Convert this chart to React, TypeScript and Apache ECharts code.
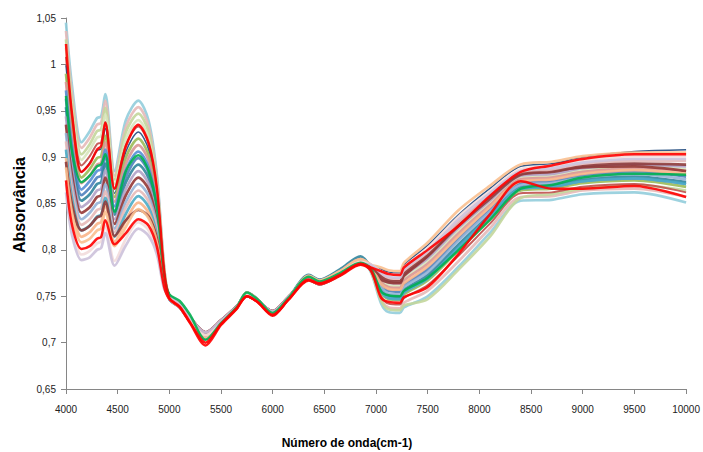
import React, { useEffect, useRef } from "react";
import * as echarts from "echarts";

// Wavenumbers (cm-1) at which every spectrum is sampled
const wavenumbers = [
  4000, 4060, 4150, 4230, 4300, 4340, 4380, 4470, 4580, 4700, 4800, 4880, 4950,
  5000, 5100, 5200, 5350, 5500, 5650, 5750, 5850, 6000, 6150, 6350, 6450, 6650, 6850, 6950,
  7050, 7120, 7230, 7270, 7500, 7800, 8100, 8400, 8700, 9000, 9500, 10000,
];

// Absorbance spectra, one array per sample
const spLightBlue = [
  1.045, 0.975, 0.916, 0.928, 0.942, 0.944, 0.968, 0.885, 0.940, 0.961, 0.939, 0.880, 0.781,
  0.747, 0.738, 0.723, 0.705, 0.721, 0.737, 0.754, 0.747, 0.730, 0.747, 0.772, 0.767, 0.777, 0.790, 0.776,
  0.742, 0.733, 0.732, 0.738, 0.750, 0.782, 0.818, 0.853, 0.854, 0.860, 0.862, 0.851,
];
const spRose = [
  1.036, 0.967, 0.910, 0.921, 0.935, 0.937, 0.961, 0.880, 0.933, 0.954, 0.933, 0.876, 0.780,
  0.749, 0.740, 0.725, 0.708, 0.722, 0.738, 0.752, 0.746, 0.732, 0.748, 0.770, 0.765, 0.775, 0.787, 0.777,
  0.746, 0.738, 0.737, 0.743, 0.756, 0.788, 0.823, 0.857, 0.858, 0.864, 0.866, 0.857,
];
const spOliveLight = [
  1.027, 0.959, 0.903, 0.914, 0.928, 0.930, 0.953, 0.876, 0.927, 0.947, 0.927, 0.872, 0.779,
  0.747, 0.738, 0.723, 0.705, 0.721, 0.737, 0.754, 0.747, 0.730, 0.747, 0.772, 0.767, 0.777, 0.790, 0.777,
  0.745, 0.736, 0.735, 0.740, 0.747, 0.779, 0.814, 0.856, 0.860, 0.866, 0.870, 0.864,
];
const spOliveMist = [
  1.018, 0.951, 0.897, 0.908, 0.921, 0.923, 0.946, 0.871, 0.920, 0.940, 0.920, 0.867, 0.778,
  0.751, 0.741, 0.727, 0.711, 0.724, 0.739, 0.750, 0.745, 0.734, 0.749, 0.768, 0.763, 0.773, 0.785, 0.782,
  0.767, 0.762, 0.761, 0.769, 0.788, 0.821, 0.851, 0.878, 0.880, 0.886, 0.890, 0.887,
];
const spBrick = [
  1.008, 0.943, 0.891, 0.901, 0.914, 0.916, 0.938, 0.866, 0.913, 0.933, 0.914, 0.863, 0.776,
  0.751, 0.741, 0.727, 0.711, 0.724, 0.739, 0.750, 0.745, 0.734, 0.749, 0.768, 0.763, 0.773, 0.785, 0.777,
  0.750, 0.742, 0.741, 0.748, 0.762, 0.794, 0.828, 0.861, 0.862, 0.868, 0.871, 0.862,
];
const spNavy = [
  0.999, 0.935, 0.884, 0.894, 0.907, 0.909, 0.931, 0.861, 0.906, 0.927, 0.908, 0.859, 0.775,
  0.747, 0.738, 0.723, 0.705, 0.721, 0.737, 0.754, 0.747, 0.730, 0.747, 0.772, 0.767, 0.777, 0.790, 0.784,
  0.779, 0.776, 0.775, 0.784, 0.805, 0.838, 0.866, 0.890, 0.893, 0.900, 0.906, 0.908,
];
const spOlive = [
  0.990, 0.927, 0.878, 0.887, 0.899, 0.901, 0.923, 0.857, 0.900, 0.920, 0.902, 0.855, 0.774,
  0.749, 0.740, 0.725, 0.708, 0.722, 0.738, 0.752, 0.746, 0.732, 0.748, 0.770, 0.765, 0.775, 0.787, 0.780,
  0.754, 0.747, 0.746, 0.752, 0.767, 0.800, 0.833, 0.864, 0.866, 0.872, 0.875, 0.868,
];
const spTan = [
  0.981, 0.919, 0.872, 0.880, 0.892, 0.894, 0.916, 0.852, 0.893, 0.913, 0.896, 0.850, 0.773,
  0.751, 0.741, 0.727, 0.711, 0.724, 0.739, 0.750, 0.745, 0.734, 0.749, 0.768, 0.763, 0.773, 0.785, 0.782,
  0.765, 0.760, 0.759, 0.767, 0.785, 0.818, 0.848, 0.876, 0.878, 0.884, 0.888, 0.885,
];
const spCornflower = [
  0.972, 0.911, 0.865, 0.874, 0.885, 0.887, 0.908, 0.847, 0.886, 0.906, 0.889, 0.846, 0.772,
  0.747, 0.738, 0.723, 0.705, 0.721, 0.737, 0.754, 0.747, 0.730, 0.747, 0.772, 0.767, 0.777, 0.790, 0.780,
  0.756, 0.749, 0.748, 0.755, 0.770, 0.803, 0.836, 0.866, 0.868, 0.874, 0.877, 0.871,
];
const spSteel = [
  0.963, 0.903, 0.859, 0.867, 0.878, 0.880, 0.901, 0.842, 0.879, 0.899, 0.883, 0.842, 0.771,
  0.747, 0.738, 0.723, 0.705, 0.721, 0.737, 0.754, 0.747, 0.730, 0.747, 0.772, 0.767, 0.777, 0.790, 0.782,
  0.762, 0.756, 0.755, 0.762, 0.779, 0.812, 0.843, 0.872, 0.874, 0.880, 0.884, 0.879,
];
const spTeal = [
  0.954, 0.895, 0.853, 0.860, 0.871, 0.873, 0.893, 0.838, 0.873, 0.892, 0.877, 0.838, 0.770,
  0.748, 0.739, 0.723, 0.704, 0.721, 0.737, 0.753, 0.747, 0.730, 0.748, 0.773, 0.768, 0.779, 0.793, 0.781,
  0.758, 0.751, 0.750, 0.757, 0.773, 0.806, 0.838, 0.868, 0.870, 0.876, 0.879, 0.873,
];
const spLavender = [
  0.944, 0.887, 0.846, 0.853, 0.864, 0.866, 0.886, 0.833, 0.866, 0.885, 0.871, 0.833, 0.768,
  0.749, 0.740, 0.725, 0.708, 0.722, 0.738, 0.752, 0.746, 0.732, 0.748, 0.770, 0.765, 0.775, 0.787, 0.782,
  0.769, 0.765, 0.764, 0.772, 0.791, 0.824, 0.853, 0.880, 0.882, 0.888, 0.892, 0.890,
];
const spBrown = [
  0.935, 0.879, 0.840, 0.846, 0.857, 0.859, 0.878, 0.828, 0.859, 0.878, 0.865, 0.829, 0.767,
  0.751, 0.741, 0.727, 0.711, 0.724, 0.739, 0.750, 0.745, 0.734, 0.749, 0.768, 0.763, 0.773, 0.785, 0.782,
  0.768, 0.765, 0.764, 0.772, 0.793, 0.828, 0.858, 0.882, 0.885, 0.889, 0.890, 0.885,
];
const spSky = [
  0.926, 0.871, 0.833, 0.840, 0.850, 0.852, 0.871, 0.823, 0.852, 0.871, 0.858, 0.825, 0.766,
  0.749, 0.740, 0.725, 0.708, 0.722, 0.738, 0.752, 0.746, 0.732, 0.748, 0.770, 0.765, 0.775, 0.787, 0.780,
  0.760, 0.753, 0.752, 0.760, 0.776, 0.810, 0.841, 0.870, 0.872, 0.878, 0.882, 0.876,
];
const spPink = [
  0.917, 0.863, 0.827, 0.833, 0.843, 0.845, 0.863, 0.819, 0.846, 0.864, 0.852, 0.821, 0.765,
  0.747, 0.738, 0.723, 0.705, 0.721, 0.737, 0.754, 0.747, 0.730, 0.747, 0.772, 0.767, 0.777, 0.790, 0.784,
  0.773, 0.769, 0.768, 0.776, 0.796, 0.830, 0.858, 0.883, 0.886, 0.892, 0.896, 0.896,
];
const spAqua = [
  0.908, 0.855, 0.821, 0.826, 0.836, 0.838, 0.856, 0.814, 0.839, 0.858, 0.846, 0.816, 0.764,
  0.749, 0.740, 0.725, 0.708, 0.722, 0.738, 0.752, 0.746, 0.732, 0.748, 0.770, 0.765, 0.775, 0.787, 0.780,
  0.755, 0.748, 0.747, 0.754, 0.769, 0.803, 0.836, 0.866, 0.868, 0.874, 0.877, 0.871,
];
const spApricot = [
  0.899, 0.847, 0.814, 0.819, 0.828, 0.830, 0.848, 0.809, 0.832, 0.851, 0.840, 0.812, 0.763,
  0.749, 0.740, 0.725, 0.708, 0.722, 0.738, 0.752, 0.746, 0.732, 0.748, 0.770, 0.765, 0.775, 0.787, 0.782,
  0.763, 0.758, 0.757, 0.764, 0.782, 0.815, 0.846, 0.874, 0.876, 0.882, 0.886, 0.882,
];
const spMaroon = [
  0.895, 0.848, 0.821, 0.826, 0.835, 0.837, 0.852, 0.815, 0.832, 0.843, 0.836, 0.812, 0.763,
  0.751, 0.741, 0.727, 0.711, 0.724, 0.739, 0.750, 0.745, 0.734, 0.749, 0.768, 0.763, 0.773, 0.785, 0.782,
  0.771, 0.767, 0.766, 0.774, 0.794, 0.826, 0.855, 0.881, 0.884, 0.890, 0.893, 0.892,
];
const spPeach = [
  0.889, 0.839, 0.808, 0.812, 0.821, 0.823, 0.841, 0.804, 0.825, 0.844, 0.834, 0.808, 0.761,
  0.747, 0.738, 0.723, 0.705, 0.721, 0.737, 0.754, 0.747, 0.730, 0.747, 0.772, 0.767, 0.777, 0.790, 0.784,
  0.781, 0.778, 0.777, 0.786, 0.808, 0.843, 0.869, 0.892, 0.895, 0.901, 0.905, 0.905,
];
const spBlush = [
  0.871, 0.823, 0.795, 0.799, 0.807, 0.809, 0.826, 0.788, 0.812, 0.830, 0.821, 0.799, 0.759,
  0.749, 0.740, 0.725, 0.708, 0.722, 0.738, 0.752, 0.746, 0.732, 0.748, 0.770, 0.765, 0.775, 0.787, 0.784,
  0.777, 0.774, 0.773, 0.781, 0.802, 0.836, 0.863, 0.887, 0.890, 0.896, 0.901, 0.901,
];
const spLilac = [
  0.862, 0.815, 0.789, 0.792, 0.800, 0.802, 0.818, 0.783, 0.805, 0.823, 0.815, 0.795, 0.758,
  0.751, 0.741, 0.727, 0.711, 0.724, 0.739, 0.750, 0.745, 0.734, 0.749, 0.768, 0.763, 0.773, 0.785, 0.784,
  0.775, 0.771, 0.770, 0.779, 0.799, 0.833, 0.861, 0.885, 0.888, 0.894, 0.898, 0.898,
];
const spGreen = [
  0.966, 0.905, 0.873, 0.880, 0.890, 0.892, 0.903, 0.841, 0.885, 0.902, 0.885, 0.845, 0.772,
  0.752, 0.745, 0.730, 0.703, 0.721, 0.738, 0.754, 0.747, 0.732, 0.748, 0.771, 0.766, 0.775, 0.786, 0.780,
  0.755, 0.751, 0.750, 0.756, 0.770, 0.800, 0.832, 0.866, 0.870, 0.878, 0.882, 0.881,
];
const spRedHigh = [
  1.022, 0.945, 0.884, 0.893, 0.908, 0.912, 0.937, 0.866, 0.912, 0.935, 0.915, 0.866, 0.777,
  0.748, 0.739, 0.722, 0.700, 0.720, 0.737, 0.750, 0.744, 0.729, 0.746, 0.767, 0.763, 0.772, 0.784, 0.778,
  0.748, 0.744, 0.743, 0.749, 0.760, 0.796, 0.838, 0.874, 0.866, 0.866, 0.869, 0.857,
];
const spRedLow = [
  0.875, 0.826, 0.801, 0.804, 0.812, 0.814, 0.832, 0.806, 0.818, 0.833, 0.826, 0.803, 0.760,
  0.747, 0.738, 0.721, 0.697, 0.719, 0.736, 0.750, 0.744, 0.730, 0.746, 0.768, 0.764, 0.773, 0.785, 0.781,
  0.777, 0.774, 0.773, 0.781, 0.800, 0.826, 0.858, 0.884, 0.891, 0.898, 0.903, 0.903,
];

// Drawing order, colour and line width of each spectrum (later ones on top)
const spectra: { values: number[]; color: string; width: number }[] = [
  { values: spLightBlue, color: "#92CDDC", width: 2.7 },
  { values: spRose, color: "#E6B9B8", width: 2.7 },
  { values: spOliveLight, color: "#C3D69B", width: 2.7 },
  { values: spOliveMist, color: "#D7E4BD", width: 2.7 },
  { values: spBrick, color: "#C0504D", width: 2 },
  { values: spNavy, color: "#1F497D", width: 1.5 },
  { values: spOlive, color: "#9BBB59", width: 2.7 },
  { values: spTan, color: "#D99694", width: 2.7 },
  { values: spCornflower, color: "#558ED5", width: 2.7 },
  { values: spSteel, color: "#4F81BD", width: 2.7 },
  { values: spTeal, color: "#31859C", width: 2.7 },
  { values: spLavender, color: "#B3A2C7", width: 2.7 },
  { values: spBrown, color: "#953735", width: 2.7 },
  { values: spSky, color: "#95B3D7", width: 2.7 },
  { values: spPink, color: "#E6B9B8", width: 2.7 },
  { values: spAqua, color: "#4BACC6", width: 2.7 },
  { values: spApricot, color: "#F9B58A", width: 2.7 },
  { values: spMaroon, color: "#8E3B3B", width: 2.7 },
  { values: spPeach, color: "#FAC090", width: 2.7 },
  { values: spBlush, color: "#F2DCDB", width: 2.7 },
  { values: spLilac, color: "#CCC1DA", width: 2.7 },
  { values: spGreen, color: "#00B050", width: 2.5 },
  { values: spRedHigh, color: "#FF0000", width: 2.5 },
  { values: spRedLow, color: "#FF0000", width: 2.5 },
];

const AXIS_GREY = "#868686";
const LABEL_FONT = "'Liberation Sans', Arial, sans-serif";

export default function App() {
  const ref = useRef<HTMLDivElement>(null);

  useEffect(() => {
    if (!ref.current) return;
    const chart = echarts.init(ref.current, undefined, { renderer: "svg" });

    const series = spectra.map((s, k) => ({
      type: "line" as const,
      name: "Amostra " + (k + 1),
      data: wavenumbers.map((w, i) => [w, s.values[i]]),
      showSymbol: false,
      smooth: 0.3,
      silent: true,
      lineStyle: { color: s.color, width: s.width, opacity: 0.9 },
      emphasis: { disabled: true },
    }));

    chart.setOption({
      animation: false,
      backgroundColor: "#ffffff",
      grid: { left: 66, right: 15, top: 18, bottom: 63 },
      xAxis: {
        type: "value",
        min: 4000,
        max: 10000,
        interval: 500,
        axisLine: { show: true, lineStyle: { color: AXIS_GREY, width: 1 } },
        axisTick: { show: true, length: 5, lineStyle: { color: AXIS_GREY } },
        axisLabel: {
          fontSize: 10,
          color: "#222",
          fontFamily: LABEL_FONT,
          margin: 15,
          formatter: (v: number) => String(v),
        },
        splitLine: { show: false },
      },
      yAxis: {
        type: "value",
        min: 0.65,
        max: 1.05,
        interval: 0.05,
        axisLine: { show: true, lineStyle: { color: AXIS_GREY, width: 1 } },
        axisTick: { show: true, length: 5, lineStyle: { color: AXIS_GREY } },
        axisLabel: {
          fontSize: 10,
          color: "#222",
          fontFamily: LABEL_FONT,
          margin: 10,
          formatter: (v: number) => String(Math.round(v * 100) / 100).replace(".", ","),
        },
        splitLine: { show: false },
      },
      graphic: [
        {
          type: "text",
          x: 19,
          y: 205,
          rotation: Math.PI / 2,
          style: {
            text: "Absorvância",
            font: "bold 16px 'Liberation Sans', Arial, sans-serif",
            fill: "#000",
            align: "center",
            verticalAlign: "middle",
            textAlign: "center",
            textVerticalAlign: "middle",
          },
        },
        {
          type: "text",
          x: 347,
          y: 443,
          style: {
            text: "Número de onda(cm-1)",
            font: "bold 12px 'Liberation Sans', Arial, sans-serif",
            fill: "#000",
            align: "center",
            verticalAlign: "middle",
            textAlign: "center",
            textVerticalAlign: "middle",
          },
        },
      ],
      series,
    });

    return () => chart.dispose();
  }, []);

  return (
    <div
      ref={ref}
      style={{ position: "fixed", left: 0, top: 0, width: 703, height: 452, background: "#fff" }}
    />
  );
}
